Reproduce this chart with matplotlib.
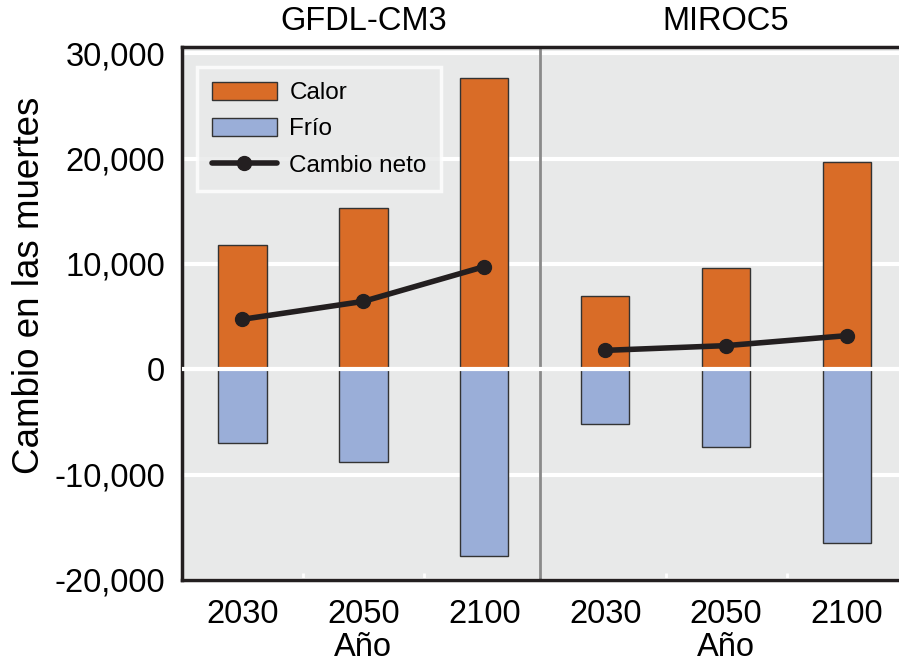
import numpy as np
import matplotlib
matplotlib.use("Agg")
import matplotlib.pyplot as plt
from matplotlib.transforms import blended_transform_factory

plt.rcParams["font.family"] = ["Liberation Sans", "DejaVu Sans"]

# Data
models = ["GFDL-CM3", "MIROC5"]
years = ["2030", "2050", "2100"]
calor_gfdl = [11800, 15300, 27700]
frio_gfdl = [-7000, -8800, -17700]
neto_gfdl = [4750, 6450, 9750]
calor_miroc = [7000, 9600, 19700]
frio_miroc = [-5200, -7400, -16500]
neto_miroc = [1800, 2250, 3200]

C_HEAT = "#d96c27"
C_COLD = "#9aaed8"
C_LINE = "#231f20"
BG = "#e8e9e9"

fig = plt.figure(figsize=(8.99, 6.62), dpi=100)
ax = fig.add_axes([182 / 899, 1 - 580 / 662, 1 - 182 / 899, (580 - 47) / 662])
ax.set_facecolor(BG)

x_left = np.arange(3)
x_right = np.arange(3) + 3
w = 0.4

calor = calor_gfdl + calor_miroc
frio = frio_gfdl + frio_miroc
xs = np.concatenate([x_left, x_right])

ax.bar(xs, calor, width=w, color=C_HEAT, edgecolor="#333333", linewidth=1.0,
       zorder=3, label="Calor")
ax.bar(xs, frio, width=w, color=C_COLD, edgecolor="#333333", linewidth=1.0,
       zorder=3, label="Frío")
ax.plot(x_left, neto_gfdl, color=C_LINE, lw=4, marker="o", ms=10, zorder=5,
        label="Cambio neto", solid_capstyle="round")
ax.plot(x_right, neto_miroc, color=C_LINE, lw=4, marker="o", ms=10, zorder=5,
        solid_capstyle="round")

ax.axhline(0, color="white", lw=3, zorder=4)
ax.axvline(2.46, color="#8a8a8a", lw=2, zorder=2)

ax.set_xlim(-0.5, 5.43)
ax.set_ylim(-20000, 30600)
ax.set_yticks([-20000, -10000, 0, 10000, 20000, 30000])
ax.set_yticklabels([f"{v:,}" for v in [-20000, -10000, 0, 10000, 20000, 30000]])
ax.yaxis.grid(True, color="white", lw=3, zorder=1)
ax.set_axisbelow(True)
ax.tick_params(axis="y", length=0, labelsize=23.5, pad=12)

ax.set_xticks(xs)
ax.set_xticklabels(years + years)
ax.set_xticks([0.5, 1.5, 3.5, 4.5], minor=True)
ax.tick_params(axis="x", which="major", length=0, labelsize=23.5, pad=14)
ax.tick_params(axis="x", which="minor", direction="in", length=5, width=2,
               color="white")

for side in ["top", "bottom", "left"]:
    ax.spines[side].set_color(C_LINE)
    ax.spines[side].set_linewidth(2.5)
ax.spines["right"].set_visible(False)

fig.text(30 / 899, 1 - 285 / 662, "Cambio en las muertes", rotation=90,
         ha="center", va="center", fontsize=26.5)

trans = blended_transform_factory(ax.transData, fig.transFigure)
ax.text(1.0, 1 - 22 / 662, models[0], transform=trans, ha="center",
        va="center", fontsize=23.5)
ax.text(4.0, 1 - 22 / 662, models[1], transform=trans, ha="center",
        va="center", fontsize=23.5)
ax.text(1.0, 1 - 648 / 662, "Año", transform=trans, ha="center",
        va="center", fontsize=23.5)
ax.text(4.0, 1 - 648 / 662, "Año", transform=trans, ha="center",
        va="center", fontsize=23.5)

handles, labels = ax.get_legend_handles_labels()
order = [labels.index(n) for n in ["Calor", "Frío", "Cambio neto"]]
leg = ax.legend([handles[i] for i in order], [labels[i] for i in order],
                loc="upper left", bbox_to_anchor=(0.021, 0.9625),
                borderaxespad=0, fontsize=17.5, frameon=True, fancybox=False,
                handlelength=2.7, handleheight=0.8, handletextpad=0.5,
                labelspacing=0.55, borderpad=0.6)
leg.get_frame().set_facecolor(BG)
leg.get_frame().set_edgecolor("white")
leg.get_frame().set_linewidth(2.5)

fig.savefig("out.png", dpi=100)
